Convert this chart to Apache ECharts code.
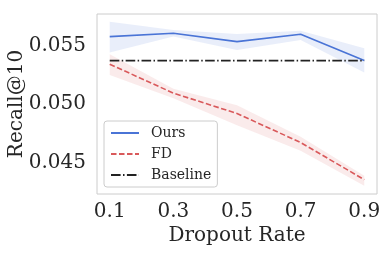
<!DOCTYPE html>
<html><head><meta charset="utf-8">
<script src="https://cdn.jsdelivr.net/npm/echarts@6/dist/echarts.min.js"></script>
<style>html,body{margin:0;padding:0;background:#fff}#c{width:389px;height:253px}</style>
</head><body><div id="c"></div>
<script>
const dropout = [0.1, 0.3, 0.5, 0.7, 0.9];
const xTicks = [0.1, 0.3, 0.5, 0.7, 0.9];
const yTicks = [0.045, 0.050, 0.055];
const ours = [0.0558, 0.05609, 0.05537, 0.0560, 0.05374];
const oursUpper = [0.05708, 0.05637, 0.05603, 0.05631, 0.0548];
const oursLower = [0.05443, 0.0558, 0.05466, 0.05551, 0.05271];
const fd = [0.05343, 0.05095, 0.0492, 0.04671, 0.04352];
const fdUpper = [0.05429, 0.05133, 0.04991, 0.0472, 0.04386];
const fdLower = [0.05251, 0.0505, 0.0482, 0.0460, 0.043];
const baseline = [0.05374, 0.05374, 0.05374, 0.05374, 0.05374];

const FONT = '"DejaVu Serif", serif';
const BLUE = '#4a74d6';
const RED = '#d9595b';
const BLACK = '#222222';

function pairs(ys){ return dropout.map((x,i)=>[x, ys[i]]); }
function band(up, lo, color){
  return {
    type: 'custom', silent: true, z: 1,
    data: [0],
    renderItem: function(params, api){
      const pts = [];
      for (let i=0;i<dropout.length;i++) pts.push(api.coord([dropout[i], up[i]]));
      for (let i=dropout.length-1;i>=0;i--) pts.push(api.coord([dropout[i], lo[i]]));
      return {type:'polygon', shape:{points:pts}, style:{fill:color, stroke:null}};
    }
  };
}
const chart = echarts.init(document.getElementById('c'));
chart.setOption({
  animation: false,
  grid: {left: 97, top: 14, right: 12, bottom: 59, show: true, borderColor: '#cccccc', borderWidth: 1,
         containLabel: false, outerBoundsMode: 'none'},
  xAxis: {
    type: 'value', min: 0.06, max: 0.94,
    axisLine: {show:false}, axisTick: {show:false}, splitLine: {show:false},
    axisLabel: {customValues: xTicks, formatter: v => v.toFixed(1), fontFamily: FONT, fontSize: 20, color: '#262626', margin: 8},
    name: 'Dropout Rate', nameLocation: 'middle', nameGap: 32, nameMoveOverlap: false,
    nameTextStyle: {fontFamily: FONT, fontSize: 20, color: '#262626'}
  },
  yAxis: {
    type: 'value', min: 0.04229, max: 0.05774,
    axisLine: {show:false}, axisTick: {show:false}, splitLine: {show:false},
    axisLabel: {customValues: yTicks, formatter: v => v.toFixed(3), fontFamily: FONT, fontSize: 20, color: '#262626', margin: 11},
    name: 'Recall@10', nameLocation: 'middle', nameGap: 70, nameMoveOverlap: false,
    nameTextStyle: {fontFamily: FONT, fontSize: 20, color: '#262626'}
  },
  legend: {
    orient: 'vertical', left: 104, top: 121,
    backgroundColor: '#fff', borderColor: '#cccccc', borderWidth: 1, borderRadius: 3,
    padding: [5, 6, 5, 6], itemGap: 7, itemWidth: 28, itemHeight: 14,
    itemStyle: {opacity: 0},
    textStyle: {fontFamily: FONT, fontSize: 14, color: '#262626', padding: [0, 0, 0, 7]},
    data: ['Ours', 'FD', 'Baseline']
  },
  series: [
    band(oursUpper, oursLower, 'rgba(74,116,214,0.12)'),
    band(fdUpper, fdLower, 'rgba(217,89,91,0.12)'),
    {name: 'Ours', type: 'line', data: pairs(ours), symbol: 'none', z: 3,
     lineStyle: {color: BLUE, width: 1.6}, itemStyle: {color: BLUE}},
    {name: 'FD', type: 'line', data: pairs(fd), symbol: 'none', z: 3,
     lineStyle: {color: RED, width: 1.6, type: [5.5, 2.5]}, itemStyle: {color: RED}},
    {name: 'Baseline', type: 'line', data: pairs(baseline), symbol: 'none', z: 4,
     lineStyle: {color: BLACK, width: 1.6, type: [9.6, 2.4, 1.5, 2.4]}, itemStyle: {color: BLACK}}
  ]
});
</script></body></html>
